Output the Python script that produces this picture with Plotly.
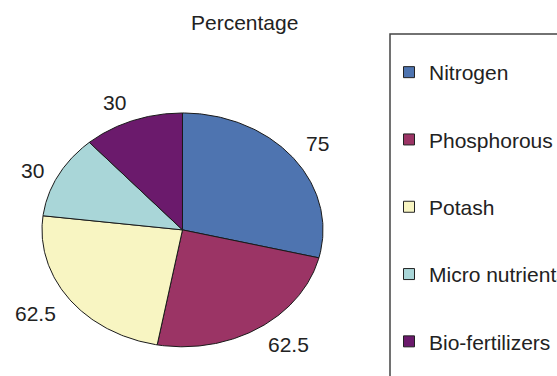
import numpy as np
import plotly.graph_objects as go

categories = ["Nitrogen", "Phosphorous", "Potash", "Micro nutrients", "Bio-fertilizers"]
values = [75, 62.5, 62.5, 30, 30]
label_texts = ["75", "62.5", "62.5", "30", "30"]
colors = ["#4E74B0", "#9B3465", "#F8F5C2", "#A9D6D8", "#6B1A6C"]

W, H = 557, 376
FONT = "Liberation Sans, Arial, sans-serif"
TXT = "#222222"

# ellipse geometry in pixels (center and radii)
CX, CY, RX, RY = 182.5, 230.0, 140.5, 117.0
R = 1.25  # axis half-range in unit-radius units

fig = go.Figure()

vals = np.array(values, dtype=float)
ends = np.cumsum(vals) / vals.sum() * 2 * np.pi
starts = np.concatenate([[0.0], ends[:-1]])

# pie wedges (angles clockwise from 12 o'clock, unit circle mapped to ellipse by axes)
for name, a0, a1, col in zip(categories, starts, ends, colors):
    t = np.linspace(a0, a1, 120)
    xs = np.concatenate([[0.0], np.sin(t), [0.0]])
    ys = np.concatenate([[0.0], np.cos(t), [0.0]])
    fig.add_trace(go.Scatter(x=xs, y=ys, mode="lines", fill="toself", fillcolor=col,
                             line=dict(color="#1a1a1a", width=1), showlegend=False,
                             hoverinfo="skip", name=name))

# legend-only entries
for i, (name, col) in enumerate(zip(categories, colors)):
    fig.add_trace(go.Scatter(x=[None], y=[None], mode="markers", name=name,
                             legendgroup=f"g{i}",
                             marker=dict(symbol="square", size=11, color=col,
                                         line=dict(color="#222", width=1))))

# data labels
annotations = []
for txt, a0, a1 in zip(label_texts, starts, ends):
    m = (a0 + a1) / 2
    sx, cy = np.sin(m), np.cos(m)
    r = 1.1
    xanchor = "left" if sx > 0 else "right"
    if cy > 0.5:
        ysh = 7
    elif cy < -0.5:
        ysh = -7
    else:
        ysh = 0
    annotations.append(dict(x=r * sx, y=r * cy, xref="x", yref="y", text=txt,
                            showarrow=False, xanchor=xanchor, yanchor="middle",
                            yshift=ysh, font=dict(family=FONT, size=21, color=TXT)))

annotations.append(dict(x=244 / W, y=1 - 22 / H, xref="paper", yref="paper",
                        text="Percentage", showarrow=False, xanchor="center",
                        yanchor="middle", font=dict(family=FONT, size=21, color=TXT)))

xd = [(CX - R * RX) / W, (CX + R * RX) / W]
yd = [(H - (CY + R * RY)) / H, (H - (CY - R * RY)) / H]
yd = [max(0.0, yd[0]), min(1.0, yd[1])]

fig.update_layout(
    width=W, height=H,
    margin=dict(l=0, r=0, t=0, b=0, autoexpand=False),
    paper_bgcolor="white", plot_bgcolor="rgba(0,0,0,0)",
    xaxis=dict(domain=xd, range=[-R, R], visible=False, fixedrange=True),
    yaxis=dict(domain=yd, range=[-R, R], visible=False, fixedrange=True),
    annotations=annotations,
    shapes=[dict(type="rect", xref="paper", yref="paper",
                 x0=390 / W, x1=1.2, y0=-0.2, y1=1 - 34 / H,
                 line=dict(color="#444", width=1.5), fillcolor="rgba(0,0,0,0)")],
    legend=dict(x=389 / W, y=1 - 52 / H, xanchor="left", yanchor="top",
                bgcolor="rgba(0,0,0,0)", borderwidth=0, tracegroupgap=37,
                font=dict(family=FONT, size=21, color=TXT), itemwidth=30),
    showlegend=True,
)

fig.write_html("out.html")
